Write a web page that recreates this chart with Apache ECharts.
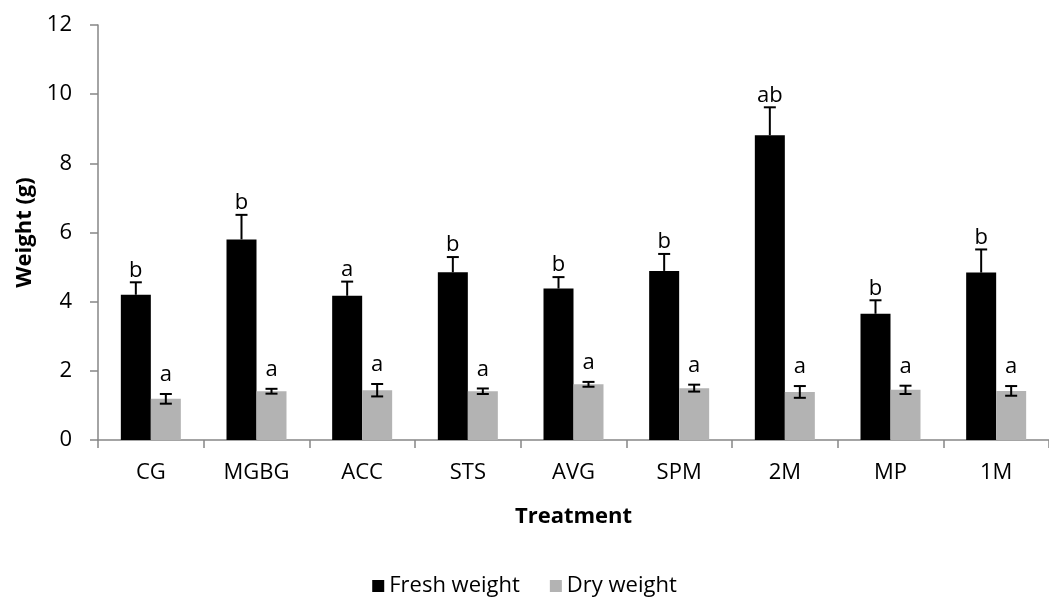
<!DOCTYPE html>
<html>
<head>
<meta charset="utf-8">
<script src="https://cdn.jsdelivr.net/npm/echarts@6/dist/echarts.min.js"></script>
<style>
  html, body { margin: 0; padding: 0; background: #fff; }
  #chart { width: 1049px; height: 599px; }
</style>
</head>
<body>
<div id="chart"></div>
<script>
// Treatments on the x axis
const categories = ['CG', 'MGBG', 'ACC', 'STS', 'AVG', 'SPM', '2M', 'MP', '1M'];

// Mean fresh and dry weight (g) with standard errors
const freshWeight = [4.20, 5.80, 4.17, 4.85, 4.38, 4.89, 8.81, 3.65, 4.84];
const freshError  = [0.36, 0.71, 0.41, 0.44, 0.33, 0.49, 0.81, 0.39, 0.67];
const dryWeight   = [1.19, 1.41, 1.44, 1.41, 1.61, 1.50, 1.39, 1.45, 1.42];
const dryError    = [0.14, 0.07, 0.18, 0.08, 0.07, 0.10, 0.17, 0.12, 0.14];

// Significance letters
const freshLetters = ['b', 'b', 'a', 'b', 'b', 'b', 'ab', 'b', 'b'];
const dryLetters   = ['a', 'a', 'a', 'a', 'a', 'a', 'a', 'a', 'a'];

// Y axis ticks
const yMin = 0, yMax = 12, yStep = 2;

const FONT = 'Open Sans';
const FS = 22;
const BAR_W = 30;

// Error bar (whiskers + caps) plus the letter above it
function errorSeries(name, means, errs, letters, shift, letterGap, bothSides) {
  return {
    type: 'custom',
    name: name + ' error',
    z: 5,
    silent: true,
    data: means.map((m, i) => [i, m, errs[i]]),
    renderItem: function (params, api) {
      const i = api.value(0), m = api.value(1), e = api.value(2);
      const top = api.coord([i, m + e]);
      const low = api.coord([i, bothSides ? m - e : m]);
      const x = top[0] + shift;
      const half = 6;
      const st = { stroke: '#000', lineWidth: 2 };
      const kids = [
        { type: 'line', shape: { x1: x, y1: low[1], x2: x, y2: top[1] }, style: st },
        { type: 'line', shape: { x1: x - half, y1: top[1], x2: x + half, y2: top[1] }, style: st },
        {
          type: 'text',
          style: {
            text: letters[i], x: x, y: top[1] - letterGap,
            fill: '#000', font: FS + 'px "' + FONT + '"',
            textAlign: 'center', textVerticalAlign: 'bottom'
          }
        }
      ];
      if (bothSides) {
        kids.push({ type: 'line', shape: { x1: x - half, y1: low[1], x2: x + half, y2: low[1] }, style: st });
      }
      return { type: 'group', children: kids };
    }
  };
}

const chart = echarts.init(document.getElementById('chart'), null, { renderer: 'canvas' });

chart.setOption({
  animation: false,
  backgroundColor: '#fff',
  textStyle: { fontFamily: FONT, color: '#000' },
  grid: { left: 98, right: -11, top: 25, bottom: 159, containLabel: false },
  legend: {
    bottom: -3,
    left: 'center',
    itemWidth: 12,
    itemHeight: 12,
    itemGap: 30,
    icon: 'rect',
    textStyle: { fontFamily: FONT, fontSize: FS, color: '#000' },
    data: ['Fresh weight', 'Dry weight']
  },
  xAxis: {
    type: 'category',
    data: categories,
    name: 'Treatment',
    nameLocation: 'middle',
    nameGap: 66,
    nameTextStyle: { fontFamily: FONT, fontSize: FS, fontWeight: 'bold', color: '#000' },
    axisLine: { lineStyle: { color: '#868686', width: 1.5 } },
    axisTick: { show: true, length: 8, interval: 0, lineStyle: { color: '#868686', width: 1.5 } },
    axisLabel: { fontFamily: FONT, fontSize: FS, color: '#000', margin: 22, interval: 0 },
    splitLine: { show: false }
  },
  yAxis: {
    type: 'value',
    min: yMin,
    max: yMax,
    interval: yStep,
    name: 'Weight (g)',
    nameLocation: 'middle',
    nameGap: 54,
    nameRotate: 90,
    nameTextStyle: { fontFamily: FONT, fontSize: FS, fontWeight: 'bold', color: '#000' },
    axisLine: { show: true, lineStyle: { color: '#868686', width: 1.5 } },
    axisTick: { show: true, length: 8, lineStyle: { color: '#868686', width: 1.5 } },
    axisLabel: { fontFamily: FONT, fontSize: FS, color: '#000', margin: 26 },
    splitLine: { show: false }
  },
  series: [
    {
      name: 'Fresh weight',
      type: 'bar',
      data: freshWeight,
      barWidth: BAR_W,
      barGap: '0%',
      itemStyle: { color: '#000' }
    },
    {
      name: 'Dry weight',
      type: 'bar',
      data: dryWeight,
      barWidth: BAR_W,
      barGap: '0%',
      itemStyle: { color: '#b3b3b3' }
    },
    errorSeries('Fresh weight', freshWeight, freshError, freshLetters, -BAR_W / 2, 1, false),
    errorSeries('Dry weight', dryWeight, dryError, dryLetters, BAR_W / 2, 8, true)
  ]
});
</script>
</body>
</html>
